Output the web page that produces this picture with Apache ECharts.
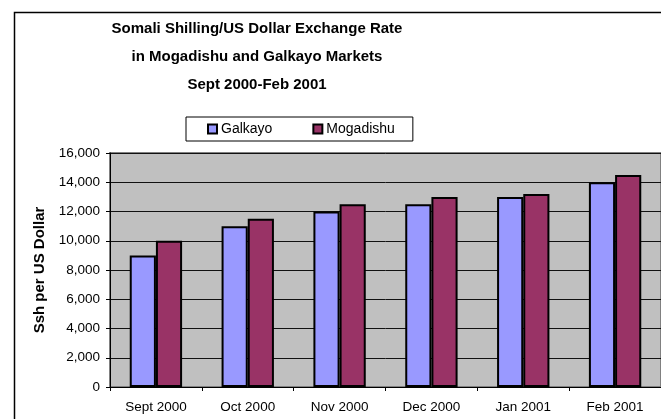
<!DOCTYPE html>
<html>
<head>
<meta charset="utf-8">
<script src="https://cdn.jsdelivr.net/npm/echarts@6/dist/echarts.min.js"></script>
<style>html,body{margin:0;padding:0;background:#fff}#c{width:661px;height:419px}</style>
</head>
<body>
<div id="c"></div>
<script>
const categories = ['Sept 2000', 'Oct 2000', 'Nov 2000', 'Dec 2000', 'Jan 2001', 'Feb 2001'];
const galkayo = [9000, 11000, 12000, 12500, 13000, 14000];
const mogadishu = [10000, 11500, 12500, 13000, 13200, 14500];
const seriesNames = ['Galkayo', 'Mogadishu'];
const titleLines = ['Somali Shilling/US Dollar Exchange Rate', 'in Mogadishu and Galkayo Markets', 'Sept 2000-Feb 2001'];
const yAxisName = 'Ssh per US Dollar';

const FONT = "'Liberation Sans', Arial, sans-serif";
const chart = echarts.init(document.getElementById('c'), null, {renderer: 'canvas'});
chart.setOption({
  backgroundColor: '#fff',
  animation: false,
  textStyle: {fontFamily: FONT},
  graphic: [{
    type: 'rect', left: 12, top: 10, z: -1,
    shape: {width: 700, height: 500},
    style: {fill: 'none', stroke: '#000', lineWidth: 1.5}
  }],
  title: {
    text: titleLines.join('\n'),
    left: 257, top: 15, textAlign: 'center', padding: 0,
    textStyle: {fontFamily: FONT, fontSize: 15, fontWeight: 'bold', color: '#000', lineHeight: 28}
  },
  legend: {
    data: seriesNames,
    left: 186, top: 117,
    padding: [5, 18, 5, 21],
    itemGap: 40,
    itemWidth: 9, itemHeight: 9,
    icon: 'rect',
    borderColor: '#000', borderWidth: 1, backgroundColor: '#fff',
    textStyle: {fontFamily: FONT, fontSize: 14, color: '#000', padding: [0, 0, 0, -1]}
  },
  grid: {
    left: 110, top: 153, right: -9, bottom: 32,
    show: true, backgroundColor: '#C0C0C0', borderColor: '#808080', borderWidth: 2
  },
  xAxis: {
    type: 'category', data: categories,
    axisLine: {lineStyle: {color: '#000', width: 1}},
    axisTick: {show: true, length: 4, lineStyle: {color: '#000'}},
    axisLabel: {fontFamily: FONT, fontSize: 13.5, color: '#000', margin: 13}
  },
  yAxis: {
    type: 'value', min: 0, max: 16000, interval: 2000,
    name: yAxisName, nameLocation: 'middle', nameGap: 62, nameRotate: 90,
    nameTextStyle: {fontFamily: FONT, fontSize: 15, fontWeight: 'bold', color: '#000'},
    axisLine: {show: true, lineStyle: {color: '#000', width: 1}},
    axisTick: {show: true, length: 4, lineStyle: {color: '#000'}},
    splitLine: {lineStyle: {color: '#111', width: 1}},
    axisLabel: {fontFamily: FONT, fontSize: 13.5, color: '#000', margin: 10,
      formatter: v => v.toLocaleString('en-US')}
  },
  series: [
    {name: seriesNames[0], type: 'bar', data: galkayo, barGap: '0%', barCategoryGap: '43%',
     itemStyle: {color: '#9999FF', borderColor: '#000', borderWidth: 2}},
    {name: seriesNames[1], type: 'bar', data: mogadishu, barGap: '0%', barCategoryGap: '43%',
     itemStyle: {color: '#993366', borderColor: '#000', borderWidth: 2}}
  ]
});
</script>
</body>
</html>
